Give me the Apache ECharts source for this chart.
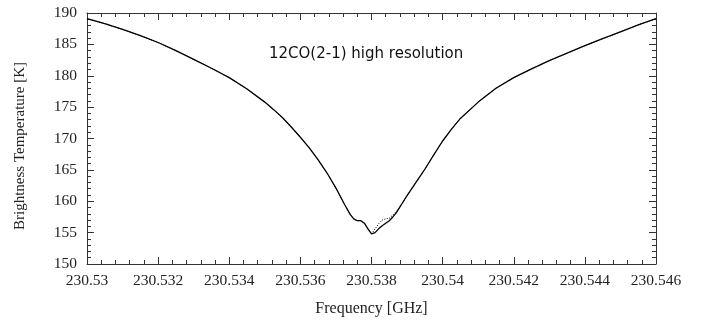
<!DOCTYPE html>
<html>
<head>
<meta charset="utf-8">
<script src="https://cdn.jsdelivr.net/npm/echarts@6/dist/echarts.min.js"></script>
<style>
  html, body { margin: 0; padding: 0; background: #fff; }
  #chart { width: 707px; height: 322px; }
</style>
</head>
<body>
<div id="chart"></div>
<script>
// Frequency samples [GHz]
const freq = [
  230.5300, 230.5305, 230.5310, 230.5315, 230.5320, 230.5325, 230.5330, 230.5335,
  230.5340, 230.5345, 230.5350, 230.53525, 230.5355, 230.53575, 230.5360, 230.53625,
  230.5365, 230.53675, 230.5370, 230.53725, 230.5374, 230.5375, 230.5376, 230.5377,
  230.5378, 230.5379, 230.5380, 230.5381, 230.5382, 230.5383, 230.5384, 230.5385,
  230.5386, 230.5387, 230.5388, 230.5389, 230.5390, 230.53925, 230.5395, 230.53975,
  230.5400, 230.54025, 230.5405, 230.5410, 230.5415, 230.5420, 230.5425, 230.5430,
  230.5435, 230.5440, 230.5445, 230.5450, 230.5455, 230.5460
];

// Brightness temperature [K], solid profile
const tempSolid = [
  189.1, 188.3, 187.4, 186.4, 185.3, 184.0, 182.6, 181.2,
  179.7, 177.9, 175.8, 174.6, 173.3, 171.8, 170.2, 168.5,
  166.6, 164.5, 162.1, 159.4, 157.9, 157.2, 156.9, 156.9,
  156.5, 155.6, 154.8, 155.0, 155.6, 156.1, 156.5, 156.9,
  157.5, 158.2, 159.1, 160.0, 160.9, 163.0, 165.1, 167.4,
  169.6, 171.5, 173.2, 175.8, 178.0, 179.7, 181.1, 182.4,
  183.6, 184.8, 185.9, 187.0, 188.1, 189.1
];

// Brightness temperature [K], dotted profile
const tempDotted = [
  189.1, 188.3, 187.4, 186.4, 185.3, 184.0, 182.6, 181.2,
  179.7, 177.9, 175.8, 174.6, 173.3, 171.8, 170.2, 168.5,
  166.6, 164.5, 162.1, 159.4, 157.9, 157.2, 156.9, 156.9,
  156.5, 155.6, 154.8, 155.6, 156.4, 157.0, 157.2, 157.3,
  157.8, 158.4, 159.1, 160.0, 160.9, 163.0, 165.1, 167.4,
  169.6, 171.5, 173.2, 175.8, 178.0, 179.7, 181.1, 182.4,
  183.6, 184.8, 185.9, 187.0, 188.1, 189.1
];

const titleText = '12CO(2-1) high resolution';
const xName = 'Frequency [GHz]';
const yName = 'Brightness Temperature [K]';

const serif = 'Liberation Serif';
const frameColor = '#333';
const labelColor = '#222';

function fmtFreq(v) {
  return String(parseFloat(v.toFixed(4)));
}

const baseX = {
  type: 'value',
  min: 230.53,
  max: 230.546,
  interval: 0.002,
  splitLine: { show: false },
  axisLine: { show: true, onZero: false, lineStyle: { color: frameColor, width: 1 } },
  axisTick: { show: true, inside: true, length: 7, lineStyle: { color: frameColor } },
  minorTick: { show: true, splitNumber: 5, length: 4, lineStyle: { color: frameColor } }
};

const baseY = {
  type: 'value',
  min: 150,
  max: 190,
  interval: 5,
  splitLine: { show: false },
  axisLine: { show: true, onZero: false, lineStyle: { color: frameColor, width: 1 } },
  axisTick: { show: true, inside: true, length: 7, lineStyle: { color: frameColor } },
  minorTick: { show: true, splitNumber: 5, length: 4, lineStyle: { color: frameColor } }
};

const chart = echarts.init(document.getElementById('chart'), null, { renderer: 'canvas' });

chart.setOption({
  animation: false,
  backgroundColor: '#fff',
  title: {
    text: titleText,
    left: 264,
    top: 42,
    textStyle: { fontFamily: 'DejaVu Sans', fontSize: 15, fontWeight: 'normal', color: '#111' }
  },
  graphic: [
    {
      type: 'text',
      x: 20,
      y: 146,
      rotation: Math.PI / 2,
      style: {
        text: yName,
        fontFamily: serif,
        fontSize: 15,
        fill: labelColor,
        align: 'center',
        verticalAlign: 'middle'
      }
    }
  ],
  grid: { left: 87, right: 51, top: 13, bottom: 57, containLabel: false },
  xAxis: [
    Object.assign({}, baseX, {
      position: 'bottom',
      name: xName,
      nameLocation: 'middle',
      nameGap: 37,
      nameTextStyle: { fontFamily: serif, fontSize: 16, color: labelColor },
      axisLabel: {
        show: true, margin: 9, fontFamily: serif, fontSize: 15.5, color: labelColor,
        formatter: fmtFreq
      }
    }),
    Object.assign({}, baseX, {
      position: 'top',
      axisLabel: { show: false }
    })
  ],
  yAxis: [
    Object.assign({}, baseY, {
      position: 'left',
      axisLabel: { show: true, margin: 10, fontFamily: serif, fontSize: 15.5, color: labelColor }
    }),
    Object.assign({}, baseY, {
      position: 'right',
      axisLabel: { show: false }
    })
  ],
  series: [
    {
      type: 'line',
      name: 'dotted',
      xAxisIndex: 0,
      yAxisIndex: 0,
      data: freq.map((f, i) => [f, tempDotted[i]]),
      showSymbol: false,
      smooth: false,
      lineStyle: { color: '#000', width: 1, type: [1, 1.5] },
      z: 2
    },
    {
      type: 'line',
      name: 'solid',
      xAxisIndex: 0,
      yAxisIndex: 0,
      data: freq.map((f, i) => [f, tempSolid[i]]),
      showSymbol: false,
      smooth: false,
      lineStyle: { color: '#000', width: 1.3 },
      z: 3
    }
  ]
});
</script>
</body>
</html>
